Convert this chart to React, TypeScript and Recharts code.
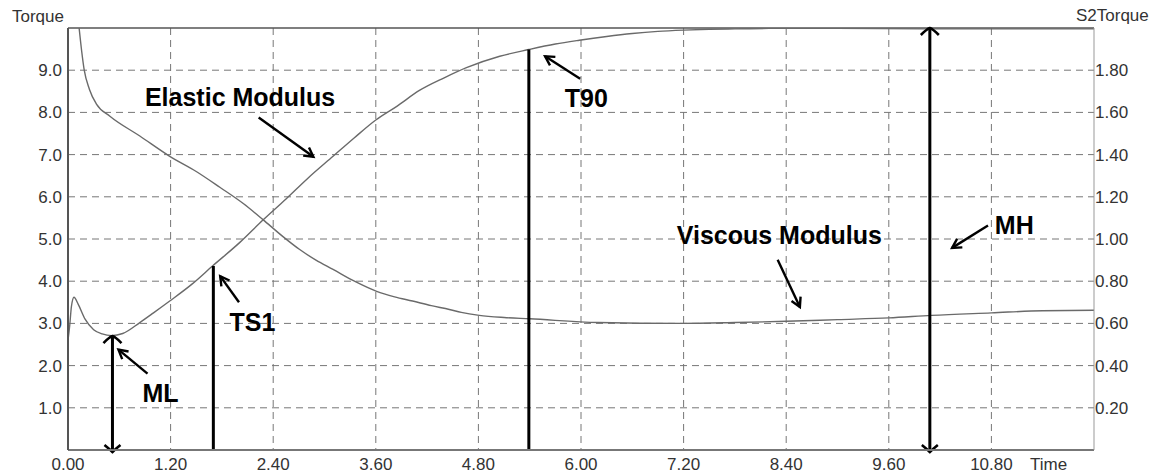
import React from "react";
import {
  LineChart,
  Line,
  XAxis,
  YAxis,
  CartesianGrid,
  ReferenceLine,
  ReferenceDot,
} from "recharts";

const TIME_TICKS = [0, 1.2, 2.4, 3.6, 4.8, 6.0, 7.2, 8.4, 9.6, 10.8];
const TORQUE_TICKS = [1, 2, 3, 4, 5, 6, 7, 8, 9];
const S2_TICKS = [0.2, 0.4, 0.6, 0.8, 1.0, 1.2, 1.4, 1.6, 1.8];

// elastic modulus (S' torque), left axis
const elasticTime = [
  0, 0.02, 0.04, 0.07, 0.12, 0.2, 0.3, 0.4, 0.51, 0.64, 0.84, 1.0, 1.19, 1.45, 1.69, 2.01,
  2.28, 2.55, 2.8, 3.1, 3.35, 3.6, 3.85, 4.11, 4.4, 4.66, 5.05, 5.39, 5.7, 5.98, 6.3, 6.6,
  6.9, 7.2, 7.5, 7.8, 8.2, 9.0, 10.0, 11.0, 12.0,
];
const elasticTorque = [
  2.6, 2.95, 3.4, 3.62, 3.45, 3.1, 2.85, 2.75, 2.71, 2.76, 3.02, 3.25, 3.53, 3.93, 4.36, 4.92,
  5.45, 5.95, 6.43, 6.96, 7.4, 7.82, 8.15, 8.52, 8.82, 9.06, 9.33, 9.49, 9.62, 9.71, 9.8, 9.87,
  9.92, 9.95, 9.97, 9.98, 9.99, 9.99, 9.98, 9.98, 9.98,
];

// viscous modulus (S2 torque), right axis
const viscousTime = [
  0.1, 0.13, 0.16, 0.19, 0.25, 0.335, 0.49, 0.84, 1.19, 1.5, 1.78, 2.05, 2.28, 2.5, 2.71, 2.9,
  3.1, 3.35, 3.61, 3.82, 4.03, 4.25, 4.46, 4.6, 4.81, 5.1, 5.4, 6.2, 7.19, 7.8, 8.4, 9.0, 9.6,
  10.1, 10.8, 11.4, 12.0,
];
const viscousTorque = [
  2.12, 2.0, 1.89, 1.8, 1.71, 1.638, 1.582, 1.488, 1.392, 1.32, 1.244, 1.168, 1.092, 1.016,
  0.95, 0.9, 0.856, 0.8, 0.752, 0.726, 0.706, 0.684, 0.666, 0.652, 0.638, 0.628, 0.622, 0.604,
  0.6, 0.604, 0.61, 0.618, 0.626, 0.638, 0.65, 0.66, 0.662,
];

// vertical markers
const markerTime = [0.52, 1.7, 5.39, 10.08];
const markerTop = [2.7, 4.36, 9.49, 10];
const markerDouble = [true, false, false, true];

// text labels
const labelText = ["Elastic Modulus", "Viscous Modulus", "T90", "TS1", "ML", "MH"];
const labelTime = [0.9, 7.12, 5.81, 1.89, 0.87, 10.84];
const labelTorque = [8.14, 4.89, 8.12, 2.82, 1.13, 5.13];

// pointer arrows: from -> to
const pointerFromTime = [2.23, 8.3, 5.99, 2.0, 0.93, 10.76];
const pointerFromTorque = [7.88, 4.51, 8.8, 3.5, 1.81, 5.32];
const pointerToTime = [2.87, 8.56, 5.58, 1.78, 0.59, 10.34];
const pointerToTorque = [6.95, 3.39, 9.33, 4.12, 2.38, 4.79];

const elasticData = elasticTime.map((t, i) => ({ t, v: elasticTorque[i] }));
const viscousData = viscousTime.map((t, i) => ({ t, v: viscousTorque[i] }));

const FONT = "'Liberation Sans', Arial, sans-serif";

function Pointer(p: any) {
  const { x1, y1, x2, y2 } = p;
  const dx = x2 - x1;
  const dy = y2 - y1;
  const len = Math.sqrt(dx * dx + dy * dy) || 1;
  const ux = dx / len;
  const uy = dy / len;
  const L = 9;
  const W = 5;
  const ax = x2 - L * ux - W * uy;
  const ay = y2 - L * uy + W * ux;
  const bx = x2 - L * ux + W * uy;
  const by = y2 - L * uy - W * ux;
  return (
    <g>
      <line x1={x1} y1={y1} x2={x2} y2={y2} stroke="#000" strokeWidth={2.4} />
      <polyline
        points={`${ax},${ay} ${x2},${y2} ${bx},${by}`}
        fill="none"
        stroke="#000"
        strokeWidth={2.4}
      />
    </g>
  );
}

function makeMarker(double: boolean) {
  return (p: any) => {
    const { x1, y1, x2, y2 } = p;
    return (
      <g>
        <line x1={x1} y1={y1} x2={x2} y2={y2} stroke="#000" strokeWidth={3} />
        {double && (
          <>
            <path
              d={`M${x2 - 9},${y2 + 7} Q${x2 - 3},${y2 + 1} ${x2},${y2} Q${x2 + 3},${y2 + 1} ${x2 + 9},${y2 + 7}`}
              fill="none"
              stroke="#000"
              strokeWidth={2.6}
            />
            <path
              d={`M${x1 - 8},${y1 - 5} Q${x1 - 3},${y1 - 1} ${x1},${y1 + 2} Q${x1 + 3},${y1 - 1} ${x1 + 8},${y1 - 5}`}
              fill="none"
              stroke="#000"
              strokeWidth={2.6}
            />
          </>
        )}
      </g>
    );
  };
}

function makeLabel(text: string) {
  return (p: any) => (
    <text
      x={p.cx}
      y={p.cy}
      fontFamily={FONT}
      fontWeight="bold"
      fontSize={25}
      fill="#000"
    >
      {text}
    </text>
  );
}

const tickStyle = { fill: "#333", fontSize: 17, fontFamily: FONT };

export default function App() {
  return (
    <div
      style={{
        position: "absolute",
        left: 0,
        top: 0,
        width: 1166,
        height: 474,
        background: "#fff",
        fontFamily: FONT,
      }}
    >
      <LineChart
        width={1166}
        height={474}
        margin={{ top: 28, right: 0, bottom: 0, left: 0 }}
      >
        <CartesianGrid
          yAxisId="left"
          stroke="#777"
          strokeDasharray="7 5"
          verticalValues={TIME_TICKS}
          horizontalValues={TORQUE_TICKS}
        />
        <XAxis
          type="number"
          dataKey="t"
          domain={[0, 12]}
          ticks={TIME_TICKS}
          tickFormatter={(v: number) => v.toFixed(2)}
          height={24}
          tickSize={0}
          tickMargin={8}
          tick={tickStyle}
          axisLine={{ stroke: "#777", strokeWidth: 2 }}
          allowDataOverflow
        />
        <YAxis
          yAxisId="left"
          type="number"
          domain={[0, 10]}
          ticks={TORQUE_TICKS}
          tickFormatter={(v: number) => v.toFixed(1)}
          width={68}
          tickSize={0}
          tickMargin={6}
          tick={tickStyle}
          axisLine={{ stroke: "#555", strokeWidth: 2 }}
          allowDataOverflow
        />
        <YAxis
          yAxisId="right"
          orientation="right"
          type="number"
          domain={[0, 2]}
          ticks={S2_TICKS}
          tickFormatter={(v: number) => v.toFixed(2)}
          width={72}
          tickSize={0}
          tickMargin={1}
          tick={{ ...tickStyle, textAnchor: "start" }}
          axisLine={{ stroke: "#999", strokeWidth: 1 }}
          allowDataOverflow
        />
        <ReferenceLine yAxisId="left" y={10} stroke="#555" strokeWidth={1.5} />
        <Line
          yAxisId="left"
          data={elasticData}
          dataKey="v"
          type="monotone"
          stroke="#6a6a6a"
          strokeWidth={1.4}
          dot={false}
          isAnimationActive={false}
        />
        <Line
          yAxisId="right"
          data={viscousData}
          dataKey="v"
          type="monotone"
          stroke="#6a6a6a"
          strokeWidth={1.4}
          dot={false}
          isAnimationActive={false}
        />
        {markerTime.map((t, i) => (
          <ReferenceLine
            key={"m" + i}
            yAxisId="left"
            segment={[
              { x: t, y: 0 },
              { x: t, y: markerTop[i] },
            ]}
            ifOverflow="visible"
            shape={makeMarker(markerDouble[i])}
          />
        ))}
        {pointerFromTime.map((t, i) => (
          <ReferenceLine
            key={"p" + i}
            yAxisId="left"
            segment={[
              { x: t, y: pointerFromTorque[i] },
              { x: pointerToTime[i], y: pointerToTorque[i] },
            ]}
            ifOverflow="visible"
            shape={Pointer}
          />
        ))}
        {labelText.map((txt, i) => (
          <ReferenceDot
            key={"l" + i}
            yAxisId="left"
            x={labelTime[i]}
            y={labelTorque[i]}
            r={0}
            ifOverflow="visible"
            shape={makeLabel(txt)}
          />
        ))}
      </LineChart>
      <div style={{ position: "absolute", left: 12, top: 7, fontSize: 17, color: "#333" }}>
        Torque
      </div>
      <div style={{ position: "absolute", left: 1076, top: 6, fontSize: 17, color: "#333" }}>
        S2Torque
      </div>
      <div style={{ position: "absolute", left: 1030, top: 455, fontSize: 17, color: "#333" }}>
        Time
      </div>
    </div>
  );
}
